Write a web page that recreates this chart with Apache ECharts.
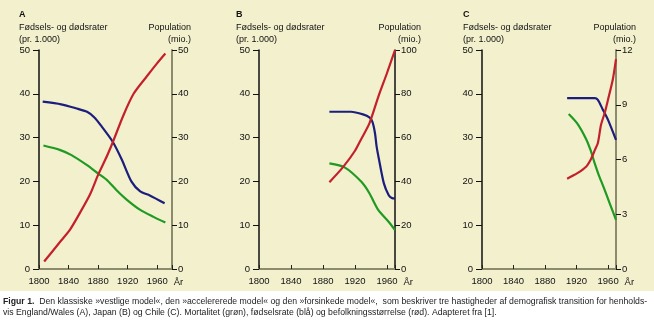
<!DOCTYPE html>
<html>
<head>
<meta charset="utf-8">
<script src="https://cdn.jsdelivr.net/npm/echarts@6/dist/echarts.min.js"></script>
<style>
html,body{margin:0;padding:0;background:#ffffff;}
#bg{position:absolute;left:0;top:0;width:654px;height:291px;background:#f3f0cd;}
#chart{position:absolute;left:0;top:0;width:654px;height:332px;}
</style>
</head>
<body>
<div id="bg"></div>
<div id="chart"></div>
<script>
// ---- Data (year, value) ----
// Panel A: England/Wales
const A_birth = [[1805,38.2],[1830,37.6],[1850,36.7],[1865,35.9],[1875,34.6],[1885,32.5],[1900,29.0],[1912,25.0],[1925,20.0],[1937,17.7],[1950,16.8],[1970,15.0]];
const A_death = [[1806,28.2],[1828,27.2],[1844,26.0],[1865,23.7],[1880,21.8],[1892,20.3],[1905,18.0],[1919,15.8],[1937,13.5],[1955,11.9],[1971,10.6]];
const A_pop   = [[1807,1.7],[1830,6.5],[1842,9.0],[1855,12.7],[1869,17.0],[1880,21.5],[1892,25.8],[1900,29.0],[1914,35.0],[1928,40.0],[1946,44.0],[1960,47.0],[1971,49.2]];
// Panel B: Japan
const B_birth = [[1888,35.9],[1915,35.9],[1930,35.3],[1938,34.6],[1942,33.5],[1945,31.0],[1947,28.0],[1950,25.0],[1956,19.6],[1962,16.9],[1966,16.2],[1970,16.1]];
const B_death = [[1888,24.1],[1907,23.2],[1928,19.9],[1938,17.3],[1949,13.5],[1962,10.8],[1970,8.9]];
const B_pop   = [[1888,39.6],[1905,46.5],[1920,54.0],[1928,59.5],[1938,66.5],[1949,78.5],[1960,89.5],[1970,100.0]];
// Panel C: Chile
const C_birth = [[1908,39.0],[1943,39.0],[1947,38.6],[1953,36.5],[1960,34.0],[1970,29.5]];
const C_death = [[1910,35.4],[1921,33.2],[1932,29.7],[1938,27.0],[1943,24.1],[1948,21.5],[1954,18.8],[1962,15.0],[1970,11.2]];
const C_pop   = [[1908,4.95],[1921,5.25],[1932,5.6],[1938,6.0],[1943,6.5],[1947,6.9],[1951,7.9],[1956,8.6],[1960,9.3],[1966,10.4],[1970,11.5]];

const panelLetters = ['A','B','C'];
const leftTitle = 'Fødsels- og dødsrater\n(pr. 1.000)';
const rightTitle1 = 'Population';
const rightTitle2 = '(mio.)';
const xMin = 1800;
const xMaxes = [1980, 1970, 1970];
const rightMax = [50, 100, 12];
const rightInterval = [10, 20, 3];
const captionLine1 = 'Den klassiske »vestlige model«, den »accelererede model« og den »forsinkede model«,  som beskriver tre hastigheder af demografisk transition for henholds-';
const captionLine2 = 'vis England/Wales (A), Japan (B) og Chile (C). Mortalitet (grøn), fødselsrate (blå) og befolkningsstørrelse (rød). Adapteret fra [1].';

const BLUE = '#1c1d7c', RED = '#c4202c', GREEN = '#1f9a22';
const AX_GRAY = '#8d8b6d';
const FONT = 'Liberation Sans';

const grids = [
  {left:39, top:50, width:133, height:219},
  {left:259, top:50, width:136, height:219},
  {left:482, top:50, width:134, height:219}
];
const nameGaps = [-3, 0, 2];
const rightLineColors = [AX_GRAY, '#111', AX_GRAY];

const xAxes = [], yAxes = [], series = [], titles = [];
const datasets = [[A_birth,A_death,A_pop],[B_birth,B_death,B_pop],[C_birth,C_death,C_pop]];

grids.forEach((g,i)=>{
  xAxes.push({
    type:'value', gridIndex:i, min:xMin, max:xMaxes[i], interval:40,
    axisLine:{show:true, onZero:false, lineStyle:{color:AX_GRAY, width:2}},
    axisTick:{show:true, inside:true, length:4, lineStyle:{color:'#222', width:1}},
    axisLabel:{margin:7, fontSize:9.5, fontFamily:FONT, color:'#111',
      formatter:v => (v % 40 === 0 && v < 1970) ? String(v) : ''},
    splitLine:{show:false},
    name:'År', nameLocation:'end', nameGap:nameGaps[i],
    nameTextStyle:{fontSize:9.5, fontFamily:FONT, color:'#111', verticalAlign:'top', align:'left', padding:[8,0,0,0]}
  });
  yAxes.push({
    type:'value', gridIndex:i, position:'left', min:0, max:50, interval:10,
    axisLine:{show:true, lineStyle:{color:'#111', width:1.5}},
    axisTick:{show:true, length:6, lineStyle:{color:'#111', width:1}},
    axisLabel:{margin:9, fontSize:9.5, fontFamily:FONT, color:'#111'},
    splitLine:{show:false}
  });
  yAxes.push({
    type:'value', gridIndex:i, position:'right', min:0, max:rightMax[i], interval:rightInterval[i],
    axisLine:{show:true, lineStyle:{color:rightLineColors[i], width:i===1?1.5:2}},
    axisTick:{show:true, length:5, lineStyle:{color:'#111', width:1}},
    axisLabel:{margin:6, fontSize:9.5, fontFamily:FONT, color:'#111'},
    splitLine:{show:false}
  });
  const [b,d,p] = datasets[i];
  const mk = (data, color, yIdx) => ({
    type:'line', xAxisIndex:i, yAxisIndex:yIdx, data, smooth:0.25,
    symbol:'none', lineStyle:{color, width:2.2}, silent:true, animation:false
  });
  series.push(mk(d, GREEN, 2*i));
  series.push(mk(b, BLUE, 2*i));
  series.push(mk(p, RED, 2*i+1));
});

const panelLeft = [19, 236, 463];
const panelRight = [654-191, 654-421, 654-636];
panelLetters.forEach((L,i)=>{
  titles.push({text:L, left:panelLeft[i], top:10, padding:0,
    textStyle:{fontSize:9, fontWeight:'bold', fontFamily:FONT, color:'#111'}});
  titles.push({text:leftTitle, left:panelLeft[i], top:22, padding:0,
    textStyle:{fontSize:9, fontWeight:'normal', fontFamily:FONT, color:'#111', lineHeight:12}});
  titles.push({text:rightTitle1, right:panelRight[i], top:22, padding:0,
    textStyle:{fontSize:9, fontWeight:'normal', fontFamily:FONT, color:'#111', lineHeight:12}});
  titles.push({text:rightTitle2, right:panelRight[i], top:34, padding:0,
    textStyle:{fontSize:9, fontWeight:'normal', fontFamily:FONT, color:'#111', lineHeight:12}});
});
titles.push({
  text:'{b|Figur 1.}  ' + captionLine1 + '\n' + captionLine2,
  left:3, top:296, padding:0,
  textStyle:{fontSize:8.7, fontWeight:'normal', fontFamily:FONT, color:'#222', lineHeight:11,
    rich:{b:{fontWeight:'bold', fontSize:8.7, fontFamily:FONT, color:'#222'}}}
});

const chart = echarts.init(document.getElementById('chart'), null, {renderer:'canvas'});
chart.setOption({
  backgroundColor:'transparent',
  animation:false,
  title:titles,
  grid:grids,
  xAxis:xAxes,
  yAxis:yAxes,
  series:series
});
</script>
</body>
</html>
